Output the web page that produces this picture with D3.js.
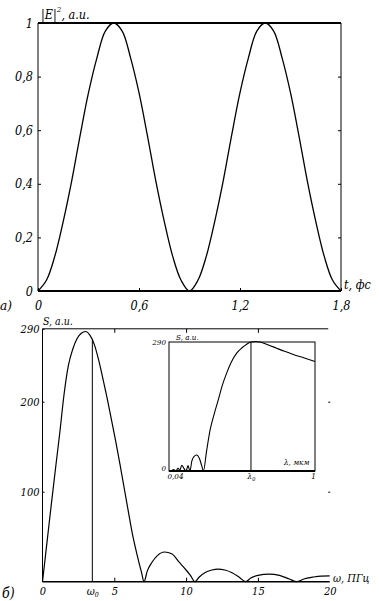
<!DOCTYPE html>
<html><head><meta charset="utf-8">
<script src="https://cdn.jsdelivr.net/npm/d3@7"></script>
<style>
body{margin:0;background:#fff;}
svg{display:block;}
text{font-family:'DejaVu Serif Condensed','DejaVu Serif',serif;font-stretch:condensed;font-style:italic;fill:#000;}
</style></head>
<body>
<svg id="c" width="379" height="601"></svg>
<script>
const FONT = "'DejaVu Serif Condensed','DejaVu Serif',serif";
// ---------- data: panel a ----------
const tTop = [0,0.05,0.1,0.15,0.2,0.25,0.3,0.35,0.4,0.45,0.5,0.55,0.6,0.65,0.7,0.75,0.8,0.85,0.9,
              0.95,1.0,1.05,1.1,1.15,1.2,1.25,1.3,1.35,1.4,1.45,1.5,1.55,1.6,1.65,1.7,1.75,1.8];
const eTop = [0,0.04,0.13,0.26,0.41,0.58,0.74,0.87,0.97,1.0,0.97,0.87,0.74,0.58,0.41,0.26,0.13,0.04,0,
              0.04,0.13,0.26,0.41,0.58,0.74,0.87,0.97,1.0,0.97,0.87,0.74,0.58,0.41,0.26,0.13,0.04,0];
const topXTicks = [0,0.6,1.2,1.8];
const topXTickLabels = ["0","0,6","1,2","1,8"];
const topYTicks = [0,0.2,0.4,0.6,0.8,1];
const topYTickLabels = ["0","0,2","0,4","0,6","0,8","1"];

// ---------- data: panel b (spectrum vs omega) ----------
const omega = [0,0.3,0.6,0.9,1.2,1.5,1.8,2.1,2.4,2.7,3.0,3.3,3.6,3.9,4.2,4.5,4.8,5.1,5.4,5.7,6.0,6.3,6.6,6.9,7.07,
               7.3,7.6,8.0,8.5,9.0,9.5,10.0,10.3,10.62,
               10.9,11.3,11.8,12.2,12.7,13.2,13.7,14.15,
               14.5,15.0,15.8,16.5,17.2,17.7,
               18.2,18.8,19.4,20];
const spec = [0,42,84,125,165,208,240,258,270,276,278,274,264,247,226,204,180,156,130,103,76,50,29,10,0,
              12,21,29,33,31,22,13,7,0,
              5,10,13,14,13,10,5,0,
              4,7,8.5,7,3,0,
              3,5,6.3,6.5];
const omega0 = 3.47;
const bXTicks = [0,5,10,15,20];
const bYTicks = [100,200];
const bYMax = 281;          // top frame of panel b
const bYTopLabel = "290";   // label written at the top frame

// ---------- data: inset (spectrum vs wavelength) ----------
const lambda = [0.04,0.055,0.07,0.085,0.1,0.112,0.124,0.138,0.152,0.165,0.178,0.19,0.205,0.222,0.24,0.255,0.266,
                0.288,0.31,0.337,0.364,0.39,0.419,0.45,0.485,0.52,0.551,0.579,0.61,0.638,0.69,0.748,0.8,0.857,0.93,1.0];
const specL = [0,1,3,1,6,2,13,6,0,12,0,22,33,36,28,12,0,
               47,92,128,160,192,220,245,265,277,285,290,291,290,284,276,269,262,254,246];
const lambda0 = 0.579;
const insetXTicks = [0.04, lambda0, 1];
const insetXTickLabels = ["0,04","λ0","1"];
const insetYTicks = [0,290];
const insetYTickLabels = ["0","290"];

const svg = d3.select("#c");
function styleAxis(a, size){
  a.select(".domain").remove();
  a.attr("font-family", FONT);
  a.selectAll("text").style("font-family", FONT).style("font-stretch","condensed").style("font-style","italic").style("font-size", size).attr("fill","#000");
  a.selectAll("line").attr("stroke","#000");
}

// ================= panel a =================
const xT = d3.scaleLinear().domain([0,1.8]).range([38,341]);
const yT = d3.scaleLinear().domain([0,1]).range([291,23]);

const gA = svg.append("g");
gA.append("line").attr("x1",xT(0)).attr("x2",xT(0)).attr("y1",yT(0)).attr("y2",yT(1)).attr("stroke","#000").attr("stroke-width",1);
gA.append("line").attr("x1",xT(1.8)).attr("x2",xT(1.8)).attr("y1",yT(0)).attr("y2",yT(1)).attr("stroke","#000").attr("stroke-width",1);
gA.append("line").attr("x1",xT(0)).attr("x2",xT(1.8)).attr("y1",yT(1)).attr("y2",yT(1)).attr("stroke","#000").attr("stroke-width",2);
gA.append("line").attr("x1",xT(0)).attr("x2",xT(1.8)).attr("y1",yT(0)).attr("y2",yT(0)).attr("stroke","#000").attr("stroke-width",2.2);

const axL = gA.append("g").attr("transform",`translate(${xT(0)},0)`)
  .call(d3.axisLeft(yT).tickValues(topYTicks).tickFormat((d,i)=>topYTickLabels[i]).tickSize(-3).tickPadding(5));
const axR = gA.append("g").attr("transform",`translate(${xT(1.8)},0)`)
  .call(d3.axisRight(yT).tickValues(topYTicks.slice(1,-1)).tickFormat("").tickSize(-3));
const axB = gA.append("g").attr("transform",`translate(0,${yT(0)})`)
  .call(d3.axisBottom(xT).tickValues(topXTicks).tickFormat((d,i)=>topXTickLabels[i]).tickSize(-3).tickPadding(10));
[axL,axR,axB].forEach(a=>styleAxis(a,"12.5px"));

gA.append("path").datum(tTop.map((t,i)=>[t,eTop[i]]))
  .attr("fill","none").attr("stroke","#000").attr("stroke-width",1.3)
  .attr("d", d3.line().x(d=>xT(d[0])).y(d=>yT(d[1])).curve(d3.curveCatmullRom.alpha(0.5)));

const lblE = gA.append("text").attr("x",41).attr("y",19).style("font-size","12.5px");
lblE.append("tspan").text("|E|");
lblE.append("tspan").attr("dy",-7).style("font-size","8px").text("2");
lblE.append("tspan").attr("dy",7).text(", a.u.");
gA.append("text").attr("x",344).attr("y",289).style("font-size","12.5px").text("t, фс");
gA.append("text").attr("x",0).attr("y",310).style("font-size","13.5px").text("a)");

// ================= panel b =================
const xB = d3.scaleLinear().domain([0,20]).range([42.5,329.7]);
const yB = d3.scaleLinear().domain([0,bYMax]).range([581.7,328.8]);
const gB = svg.append("g");

gB.append("line").attr("x1",xB(0)).attr("x2",xB(0)).attr("y1",yB(0)).attr("y2",yB(bYMax)).attr("stroke","#000").attr("stroke-width",1);
gB.append("line").attr("x1",xB(0)).attr("x2",xB(19.9)).attr("y1",yB(bYMax)).attr("y2",yB(bYMax)).attr("stroke","#000").attr("stroke-width",1);
gB.append("line").attr("x1",xB(0)).attr("x2",xB(20)).attr("y1",yB(0)).attr("y2",yB(0)).attr("stroke","#000").attr("stroke-width",1.6);

const bL = gB.append("g").attr("transform",`translate(${xB(0)},0)`)
  .call(d3.axisLeft(yB).tickValues([...bYTicks,bYMax]).tickFormat(d=>d===bYMax?bYTopLabel:String(d)).tickSize(-2).tickPadding(3));
const bR = gB.append("g").attr("transform",`translate(${xB(19.9)},0)`)
  .call(d3.axisRight(yB).tickValues(bYTicks).tickFormat("").tickSize(2));
const bB = gB.append("g").attr("transform",`translate(0,${yB(0)})`)
  .call(d3.axisBottom(xB).tickValues([...bXTicks, omega0]).tickFormat(d=>d===omega0?"":String(d)).tickSize(-4).tickPadding(6));
const bT = gB.append("g").attr("transform",`translate(0,${yB(bYMax)})`)
  .call(d3.axisTop(xB).tickValues([5,10,15]).tickFormat("").tickSize(-4));
[bL,bR,bB,bT].forEach(a=>styleAxis(a,"11px"));
bB.selectAll(".tick").filter(d=>d===0||d===20||d===omega0).select("line").remove();
const om = bB.selectAll(".tick").filter(d=>d===omega0).select("text");
om.append("tspan").text("ω");
om.append("tspan").attr("dy",2).style("font-size","7px").text("0");

const s0 = 268;
gB.append("line").attr("x1",xB(omega0)).attr("x2",xB(omega0)).attr("y1",yB(0)).attr("y2",yB(s0)).attr("stroke","#000").attr("stroke-width",1);

gB.append("path").datum(omega.map((w,i)=>[w,spec[i]]))
  .attr("fill","none").attr("stroke","#000").attr("stroke-width",1.2)
  .attr("d", d3.line().x(d=>xB(d[0])).y(d=>yB(d[1])).curve(d3.curveMonotoneX));

gB.append("text").attr("x",43).attr("y",325).style("font-size","10.5px").text("S, a.u.");
gB.append("text").attr("x",333).attr("y",582).style("font-size","11px").text("ω, ПГц");
gB.append("text").attr("x",2).attr("y",598).style("font-size","14px").text("б)");

// ================= inset =================
const xI = d3.scaleLinear().domain([0.04,1]).range([169,315]);
const yI = d3.scaleLinear().domain([0,290]).range([471,342]);
const gI = svg.append("g");
gI.append("rect").attr("x",xI(0.04)).attr("y",yI(290)).attr("width",xI(1)-xI(0.04)).attr("height",yI(0)-yI(290))
  .attr("fill","#fff").attr("stroke","#000").attr("stroke-width",1);
gI.append("line").attr("x1",xI(0.04)).attr("x2",xI(1)).attr("y1",yI(0)).attr("y2",yI(0)).attr("stroke","#000").attr("stroke-width",2);
gI.append("line").attr("x1",xI(lambda0)).attr("x2",xI(lambda0)).attr("y1",yI(0)).attr("y2",yI(290)).attr("stroke","#000").attr("stroke-width",1);

const iB = gI.append("g").attr("transform",`translate(0,${yI(0)})`)
  .call(d3.axisBottom(xI).tickValues(insetXTicks).tickFormat((d,i)=>insetXTickLabels[i]==="λ0"?"":insetXTickLabels[i]).tickSize(0).tickPadding(2));
const iL = gI.append("g").attr("transform",`translate(${xI(0.04)},0)`)
  .call(d3.axisLeft(yI).tickValues(insetYTicks).tickFormat((d,i)=>insetYTickLabels[i]).tickSize(0).tickPadding(3));
[iB,iL].forEach(a=>styleAxis(a,"8px"));
iB.selectAll(".tick").filter(d=>d===0.04).select("text").attr("text-anchor","start").attr("x",-2);
iB.selectAll(".tick").filter(d=>d===1).select("text").attr("x",-2);
const l0 = iB.selectAll(".tick").filter(d=>d===lambda0).select("text");
l0.append("tspan").text("λ");
l0.append("tspan").attr("dy",2).style("font-size","5.5px").text("0");
iL.selectAll(".tick").filter(d=>d===0).select("text").attr("dy","-0.1em");

gI.append("path").datum(lambda.map((l,i)=>[l,specL[i]]))
  .attr("fill","none").attr("stroke","#000").attr("stroke-width",1.1)
  .attr("d", d3.line().x(d=>xI(d[0])).y(d=>yI(d[1])).curve(d3.curveMonotoneX));

gI.append("text").attr("x",176).attr("y",340).style("font-size","8px").text("S, a.u.");
gI.append("text").attr("x",284).attr("y",465).style("font-size","8px").text("λ, мкм");
</script>
</body></html>
